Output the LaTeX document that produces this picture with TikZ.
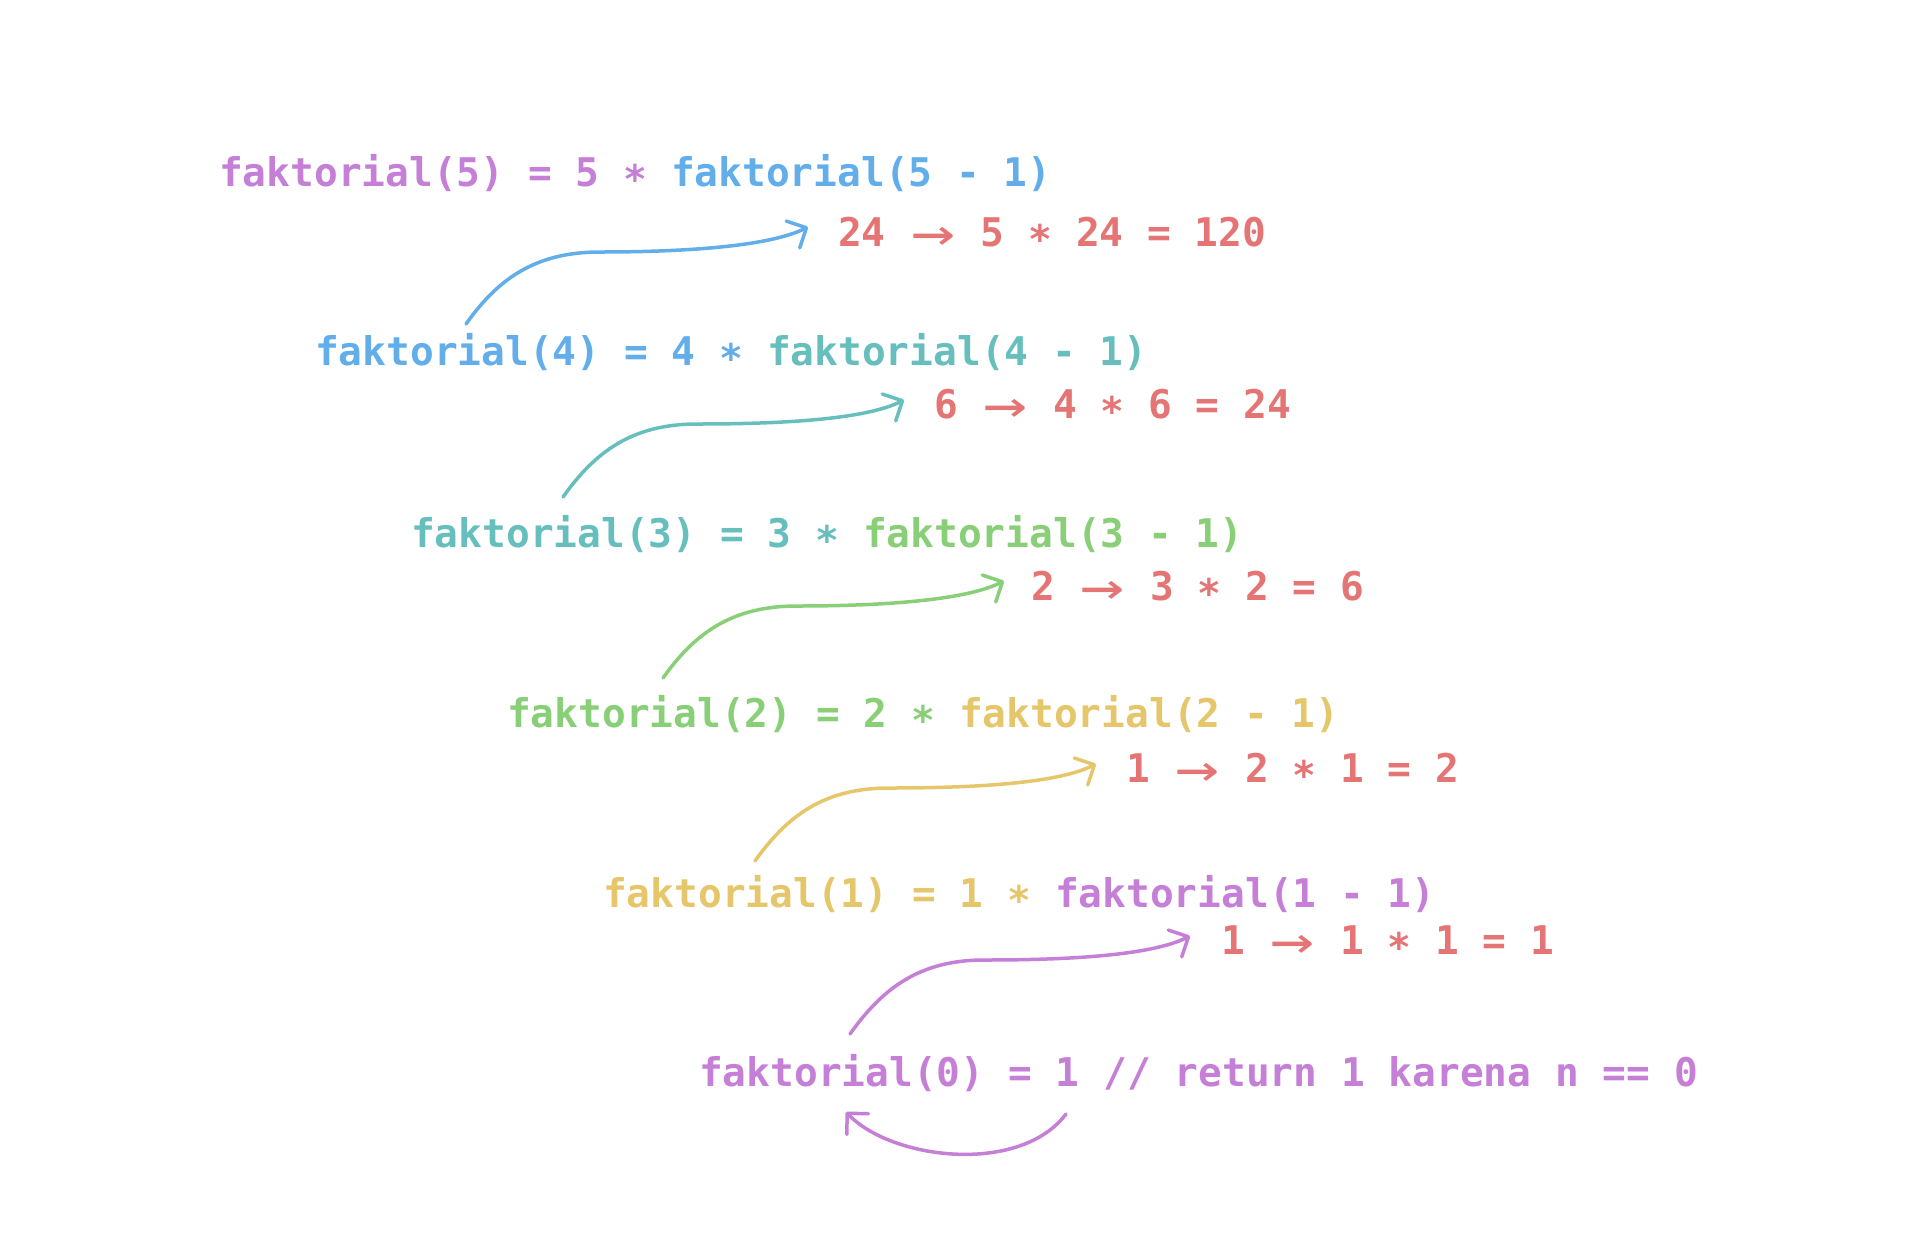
\documentclass[tikz,border=0pt]{standalone}
\usepackage{fontspec}
\usetikzlibrary{arrows.meta}
\newfontfamily\codefont{DejaVu Sans Mono}
\definecolor{purpleC}{HTML}{C57FD6}
\definecolor{blueC}{HTML}{62AEEB}
\definecolor{tealC}{HTML}{66BFBD}
\definecolor{greenC}{HTML}{88CF78}
\definecolor{yellowC}{HTML}{E6C66A}
\definecolor{redC}{HTML}{E57575}
\newcommand\mulsym{\raisebox{-0.18em}{*}}
\newcommand\arrsym{\makebox[1.204em][c]{\raisebox{-0.13em}{\scalebox{1.85}[1.4]{\mdseries →}}}}
\tikzset{
  code/.style={anchor=base west, inner sep=0pt, font=\codefont\bfseries\fontsize{39.5}{40}\selectfont},
  res/.style={code, text=redC},
  call/.style={line width=3.5pt, line cap=round, line join=round, -{Straight Barb[length=15pt, width=30pt, round]}}
}
\begin{document}
\begin{tikzpicture}[x=1pt,y=-1pt]
\useasboundingbox (0,0) rectangle (1920,1243);
\fill[white] (0,0) rectangle (1920,1243);
% call lines
\node[code] (l1) at (219,186) {\color{purpleC}faktorial(5) = 5 \mulsym{} \color{blueC}faktorial(5 - 1)};
\node[code] (l2) at (315,365) {\color{blueC}faktorial(4) = 4 \mulsym{} \color{tealC}faktorial(4 - 1)};
\node[code] (l3) at (411,547) {\color{tealC}faktorial(3) = 3 \mulsym{} \color{greenC}faktorial(3 - 1)};
\node[code] (l4) at (507,727) {\color{greenC}faktorial(2) = 2 \mulsym{} \color{yellowC}faktorial(2 - 1)};
\node[code] (l5) at (603,907) {\color{yellowC}faktorial(1) = 1 \mulsym{} \color{purpleC}faktorial(1 - 1)};
\node[code] (l6) at (699,1086) {\color{purpleC}faktorial(0) = 1 // return 1 karena n == 0};
% results
\node[res] (r1) at (838,246) {24 \arrsym{} 5 \mulsym{} 24 = 120};
\node[res] (r2) at (934,418) {6 \arrsym{} 4 \mulsym{} 6 = 24};
\node[res] (r3) at (1031,600) {2 \arrsym{} 3 \mulsym{} 2 = 6};
\node[res] (r4) at (1126,782) {1 \arrsym{} 2 \mulsym{} 1 = 2};
\node[res] (r5) at (1221,954) {1 \arrsym{} 1 \mulsym{} 1 = 1};
% connector points
\coordinate (s1) at (466,324);  \coordinate (m1) at (600,252);  \coordinate (t1) at (808,227);
\coordinate (s2) at (563,497);  \coordinate (m2) at (697,424);  \coordinate (t2) at (904,400);
\coordinate (s3) at (663,678);  \coordinate (m3) at (797,606);  \coordinate (t3) at (1004,581);
\coordinate (s4) at (755,861);  \coordinate (m4) at (889,788);  \coordinate (t4) at (1096,764);
\coordinate (s5) at (850,1034); \coordinate (m5) at (984,960);  \coordinate (t5) at (1190,936);
\coordinate (s6) at (1066,1114); \coordinate (t6) at (846,1112);
% connectors
\foreach \i/\c in {1/blueC,2/tealC,3/greenC,4/yellowC,5/purpleC}{
  \draw[call, draw=\c] (s\i) .. controls +(32,-45) and +(-65,0) .. (m\i)
        .. controls +(80,0) and +(-40,20) .. (t\i);
}
\draw[call, draw=purpleC] (s6) .. controls (1020,1175) and (892,1160) .. (t6);
\end{tikzpicture}
\end{document}
